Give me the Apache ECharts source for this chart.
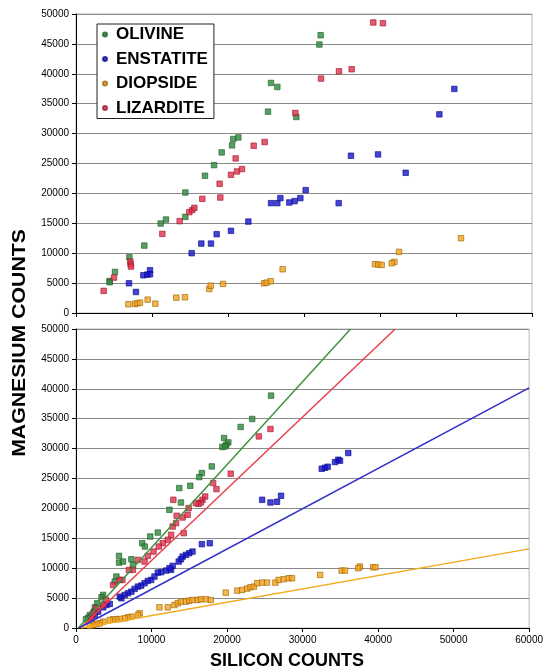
<!DOCTYPE html>
<html>
<head>
<meta charset="utf-8">
<script src="https://cdn.jsdelivr.net/npm/echarts@6/dist/echarts.min.js"></script>
<style>
html,body{margin:0;padding:0;background:#fff;}
#chart{width:546px;height:671px;}
</style>
</head>
<body>
<div id="chart"></div>
<script>
// ---------- DATA ----------
const seriesNames = ['OLIVINE', 'ENSTATITE', 'DIOPSIDE', 'LIZARDITE'];
const xTicks = [0, 10000, 20000, 30000, 40000, 50000, 60000];
const yTicks = [0, 5000, 10000, 15000, 20000, 25000, 30000, 35000, 40000, 45000, 50000];

// top panel  [silicon, magnesium]
const olivineTop = [[25660,38470],[26490,37800],[25260,33670],[28990,32780],[19170,26850],[20530,28030],[20700,29090],[21360,29360],[32190,46450],[32020,44890],[18160,24730],[16970,22950],[14390,20150],[14390,16080],[11140,14960],[11840,15630],[8990,11270],[7020,9330],[5130,6870],[4430,5360],[4430,5140]];
const enstatiteTop = [[49780,37470],[47810,33220],[36180,26300],[39740,26520],[43380,23450],[34560,18370],[6970,4970],[7890,3520],[8860,6310],[9380,6420],[9740,7150],[9740,6480],[15220,10000],[16490,11610],[17760,11610],[18510,13180],[20390,13740],[22680,15290],[25660,18370],[26490,18370],[26890,19210],[28070,18480],[28770,18710],[29520,19210],[30220,20550]];
const diopsideTop = [[6890,1460],[7760,1510],[8070,1620],[8420,1730],[9430,2230],[10440,1560],[13200,2560],[14340,2630],[17540,4020],[17720,4570],[19340,4860],[24740,4970],[25090,5080],[25620,5310],[27190,7320],[50660,12510],[42500,10220],[41890,8540],[41540,8320],[39340,8160],[39780,8090],[40220,8040]];
const lizarditeTop = [[28860,33450],[23380,27970],[24820,28590],[21010,25850],[39120,48580],[40390,48460],[34600,40420],[36270,40760],[32240,39200],[20390,23110],[21180,23670],[21840,24070],[18900,21610],[18990,19310],[16620,19090],[13640,15360],[14910,16870],[15300,17200],[15570,17590],[11360,13230],[7150,8600],[7190,8150],[7240,7760],[5000,5920],[3640,3690]];

// bottom panel
const olivineBottom = [[10830,15960],[9830,15300],[8770,14180],[9120,13620],[5700,12060],[5700,10940],[6230,11110],[7330,11500],[7540,10550],[5350,8600],[5130,7760],[3600,5530],[3380,5140],[2810,4130],[2500,3460],[2370,2740],[1840,2180],[1620,1730],[1320,1460],[21800,33620],[19610,31770],[20170,31040],[19910,30650],[19380,30270],[19740,30370],[17980,27020],[16670,25910],[16320,25240],[15130,23790],[13680,23400],[13900,20990],[12370,19770],[25830,38860],[23330,34960]];
const enstatiteBottom = [[13600,11110],[12590,9720],[11930,9600],[11270,9330],[10830,9260],[10390,8600],[9960,8040],[9510,7870],[9080,7490],[8640,7090],[8200,6920],[7760,6530],[7330,6080],[6880,5810],[6450,5530],[6010,4970],[5790,5250],[4470,4020],[4040,3850],[3600,3460],[2940,2740],[2500,2180],[2060,1890],[16670,14020],[17720,14180],[15430,12780],[15000,12510],[14560,12230],[14120,11940],[13900,11500],[12800,10390],[12370,10000],[24650,21440],[25750,20990],[26620,21110],[27150,22110],[32540,26630],[32980,26800],[33330,26970],[34300,27750],[34740,28140],[34960,27970],[36050,29260]];
const diopsideBottom = [[12150,3460],[11050,3460],[8420,2460],[8200,2180],[7330,1890],[6880,1790],[6450,1620],[5790,1510],[5350,1460],[4910,1460],[4470,1340],[3600,1060],[3160,790],[2720,670],[2280,500],[1840,340],[13030,3850],[13470,4130],[13900,4410],[14560,4410],[15000,4580],[15430,4690],[16100,4690],[16540,4800],[17190,4800],[17850,4690],[19830,5910],[21360,6250],[22010,6370],[22670,6590],[23110,6810],[23550,6920],[23990,7490],[24650,7590],[25300,7590],[26400,7590],[26840,8040],[27500,8160],[28160,8320],[28600,8320],[32330,8880],[35180,9600],[35620,9600],[37590,10270],[37370,10000],[39340,10160],[39650,10160]];
const lizarditeBottom = [[12590,15580],[12150,14740],[11490,14180],[10960,13620],[10260,12780],[9510,12060],[9080,11110],[8200,11390],[7540,9720],[7010,9720],[6140,8040],[5790,8040],[4910,7200],[3950,4690],[3600,3850],[2720,3290],[2280,2460],[2060,1620],[20490,25800],[18160,24240],[18600,23230],[17110,21990],[16750,21440],[16540,20990],[16220,20770],[15880,20890],[12890,21440],[14910,20050],[13330,18760],[14120,18480],[14780,18930],[12800,16970],[13250,17540],[14270,15860],[25750,33280],[24210,32040]];

// trend lines (bottom panel) endpoints
const olivineFit = [[300,0],[36360,50000]];
const lizarditeFit = [[600,0],[42270,50000]];
const enstatiteFit = [[400,0],[60000,40150]];
const diopsideFit = [[700,0],[60000,13230]];

// ---------- STYLE ----------
const FONT = '"Liberation Sans", Arial, sans-serif';
const fill = {OLIVINE:'#2f8a3c', ENSTATITE:'#1414cc', DIOPSIDE:'#f5a320', LIZARDITE:'#e0304a'};
const edge = {OLIVINE:'#1d5e26', ENSTATITE:'#0a0a8a', DIOPSIDE:'#9a6400', LIZARDITE:'#a01830'};
const lineCol = {OLIVINE:'#3f923f', ENSTATITE:'#3030c8', DIOPSIDE:'#f2ab1c', LIZARDITE:'#e8404c'};

function scatter(name, data, idx){
  return {
    type:'scatter', name, data, xAxisIndex:idx, yAxisIndex:idx,
    symbol:'rect', symbolSize:5.5, z:3,
    itemStyle:{color:fill[name], borderColor:edge[name], borderWidth:0.8},
    emphasis:{disabled:true}, animation:false
  };
}
function fit(name, data){
  return {
    type:'line', name:name+' fit', data, xAxisIndex:1, yAxisIndex:1,
    symbol:'none', z:4, lineStyle:{color:lineCol[name], width:1.5},
    emphasis:{disabled:true}, animation:false, legendHoverLink:false
  };
}
const plain = v => String(v);
function xAxis(idx, showLabel){
  return {
    type:'value', gridIndex:idx, min:xTicks[0], max:xTicks[xTicks.length-1], interval:10000,
    axisLine:{show:true, onZero:false, lineStyle:{color:'#000', width:1}},
    axisTick:{show:true, length:4, lineStyle:{color:'#000'}},
    axisLabel:{show:showLabel, fontFamily:FONT, fontSize:10, color:'#000', margin:7, formatter:plain},
    splitLine:{show:false}
  };
}
function yAxis(idx){
  return {
    type:'value', gridIndex:idx, min:yTicks[0], max:yTicks[yTicks.length-1], interval:5000,
    axisLine:{show:true, lineStyle:{color:'#000', width:1}},
    axisTick:{show:true, length:4, lineStyle:{color:'#000'}},
    axisLabel:{fontFamily:FONT, fontSize:10, color:'#000', margin:7, formatter:plain},
    splitLine:{show:true, lineStyle:{color:'#8a8a8a', width:1}}
  };
}

const chart = echarts.init(document.getElementById('chart'), null, {renderer:'canvas'});
chart.setOption({
  animation:false,
  backgroundColor:'#fff',
  grid:[
    {left:76, right:14, top:14, height:299, show:true, borderColor:'#b8b8b8', borderWidth:1, backgroundColor:'transparent'},
    {left:76, right:14, top:329, height:299, show:true, borderColor:'#b8b8b8', borderWidth:1, backgroundColor:'transparent'}
  ],
  xAxis:[xAxis(0,false), xAxis(1,true)],
  yAxis:[yAxis(0), yAxis(1)],
  legend:{
    data:seriesNames, orient:'vertical', left:97, top:24,
    backgroundColor:'#fff', borderColor:'#222', borderWidth:1,
    padding:[2,6,2,5], itemGap:7.5, itemWidth:4, itemHeight:4, icon:'circle',
    selectedMode:false,
    textStyle:{fontFamily:FONT, fontSize:17, fontWeight:'bold', color:'#000', padding:[0,0,0,4], lineHeight:17}
  },
  graphic:[
    {type:'text', x:287, y:661, style:{text:'SILICON COUNTS', align:'center', verticalAlign:'middle', font:'bold 18px '+FONT, fill:'#000'}},
    {type:'text', x:20, y:343, rotation:Math.PI/2, scaleX:1.18, style:{text:'MAGNESIUM COUNTS', align:'center', verticalAlign:'middle', font:'bold 18px '+FONT, fill:'#000'}}
  ],
  series:[
    scatter('OLIVINE', olivineTop, 0),
    scatter('ENSTATITE', enstatiteTop, 0),
    scatter('DIOPSIDE', diopsideTop, 0),
    scatter('LIZARDITE', lizarditeTop, 0),
    scatter('OLIVINE', olivineBottom, 1),
    scatter('ENSTATITE', enstatiteBottom, 1),
    scatter('DIOPSIDE', diopsideBottom, 1),
    scatter('LIZARDITE', lizarditeBottom, 1),
    fit('OLIVINE', olivineFit),
    fit('LIZARDITE', lizarditeFit),
    fit('ENSTATITE', enstatiteFit),
    fit('DIOPSIDE', diopsideFit)
  ]
});
</script>
</body>
</html>
